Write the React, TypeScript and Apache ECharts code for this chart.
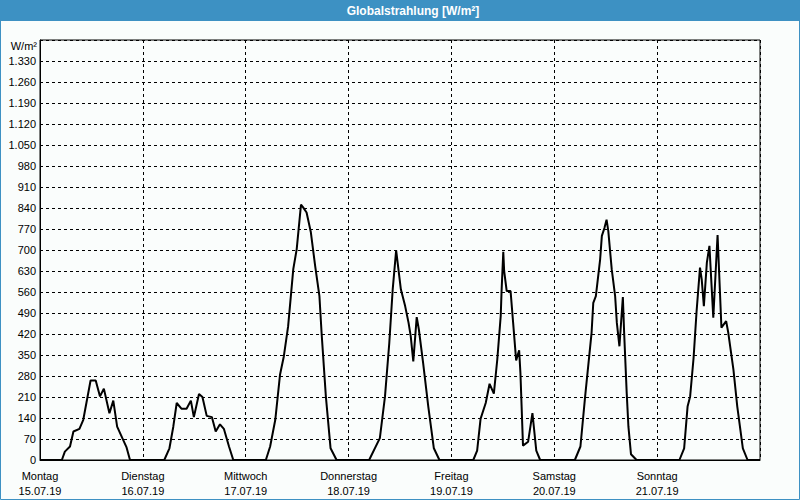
import React, { useEffect, useRef } from "react";
import * as echarts from "echarts";

const DAYS = ["Montag", "Dienstag", "Mittwoch", "Donnerstag", "Freitag", "Samstag", "Sonntag"];
const DATES = ["15.07.19", "16.07.19", "17.07.19", "18.07.19", "19.07.19", "20.07.19", "21.07.19"];

// [hour of day, W/m²]
const monday = [[5.1, 0], [5.8, 28], [7.0, 45], [7.8, 95], [9.2, 104], [10.1, 134], [11.8, 265], [13.0, 265], [14.0, 212], [14.9, 238], [16.2, 156], [17.1, 198], [18.0, 111], [19.4, 67], [20.2, 42], [21.0, 0]];
const tuesday = [[5.0, 0], [6.2, 39], [7.1, 111], [7.9, 190], [9.0, 171], [10.2, 171], [11.2, 198], [11.9, 143], [13.1, 220], [13.9, 210], [14.9, 147], [16.1, 143], [17.0, 95], [18.0, 119], [18.9, 104], [20.1, 45], [21.1, 0]];
const wednesday = [[4.7, 0], [5.7, 45], [6.9, 134], [8.0, 284], [8.9, 346], [9.9, 446], [11.1, 636], [11.9, 703], [12.9, 851], [13.4, 842], [14.2, 825], [15.2, 759], [16.2, 647], [17.2, 546], [17.7, 424], [18.7, 212], [19.8, 39], [21.2, 0]];
const thursday = [[4.8, 0], [7.3, 73], [8.5, 212], [9.5, 390], [10.3, 569], [11.1, 699], [12.2, 569], [13.2, 513], [14.0, 457], [14.5, 413], [15.1, 329], [15.9, 476], [16.4, 435], [17.4, 323], [18.6, 178], [19.9, 39], [21.2, 0]];
const friday = [[5.1, 0], [6.0, 31], [6.8, 137], [8.0, 190], [8.9, 254], [9.9, 221], [10.7, 335], [11.5, 480], [11.7, 563], [12.1, 694], [12.3, 630], [12.9, 563], [13.8, 563], [14.4, 457], [15.1, 332], [15.8, 366], [16.1, 290], [16.7, 48], [17.9, 61], [18.9, 156], [19.8, 31], [20.7, 0]];
const saturday = [[4.8, 0], [6.1, 45], [7.2, 212], [8.7, 424], [9.1, 524], [9.7, 546], [10.7, 669], [11.1, 747], [11.7, 773], [12.2, 801], [12.6, 764], [13.4, 636], [14.2, 546], [14.6, 457], [15.2, 379], [16.0, 543], [16.3, 424], [16.9, 223], [17.3, 111], [17.9, 19], [19.2, 0]];
const sunday = [[5.2, 0], [6.3, 39], [7.1, 178], [7.7, 212], [8.5, 340], [9.2, 495], [10.0, 641], [10.4, 602], [10.9, 513], [11.6, 658], [12.2, 714], [13.1, 474], [14.1, 750], [15.0, 441], [16.1, 463], [16.6, 424], [17.8, 301], [18.7, 178], [20.0, 39], [21.1, 0]];

const WEEK = [monday, tuesday, wednesday, thursday, friday, saturday, sunday];

const Y_MAX = 1400;
const Y_STEP = 70;

function fmtDe(v: number): string {
  if (v >= 1000) {
    const t = Math.floor(v / 1000);
    const r = String(v % 1000).padStart(3, "0");
    return `${t}.${r}`;
  }
  return String(v);
}

const FONT = "'Liberation Sans', Arial, sans-serif";
const BLUE = "#3d91c3";

export default function App() {
  const ref = useRef<HTMLDivElement>(null);
  useEffect(() => {
    if (!ref.current) return;
    const chart = echarts.init(ref.current, null, { renderer: "svg" });
    const points: number[][] = [[0, 0]];
    WEEK.forEach((day, i) => {
      day.forEach(([h, v]) => points.push([i * 24 + h, v]));
    });
    points.push([168, 0]);

    chart.setOption({
      animation: false,
      backgroundColor: "#fafdfc",
      grid: {
        left: 40,
        right: 40,
        top: 40,
        bottom: 40,
        show: true,
        borderColor: "#000",
        borderWidth: 1,
        backgroundColor: "transparent",
      },
      xAxis: {
        type: "value",
        min: 0,
        max: 168,
        interval: 24,
        axisLine: { show: true, lineStyle: { color: "#000", width: 1 } },
        axisTick: { show: false },
        splitLine: { show: true, lineStyle: { color: "#000", type: [3, 3], width: 1 } },
        axisLabel: {
          color: "#000",
          fontFamily: FONT,
          fontSize: 11,
          lineHeight: 15,
          margin: 8,
          showMaxLabel: false,
          formatter: (v: number) => {
            const idx = Math.round(v / 24);
            if (idx >= 7) return "";
            return `${DAYS[idx]}\n${DATES[idx]}`;
          },
        },
      },
      yAxis: {
        type: "value",
        min: 0,
        max: Y_MAX,
        interval: Y_STEP,
        axisLine: { show: true, lineStyle: { color: "#000", width: 1 } },
        axisTick: { show: false },
        splitLine: { show: true, lineStyle: { color: "#000", type: [3, 3], width: 1 } },
        axisLabel: {
          color: "#000",
          fontFamily: FONT,
          fontSize: 11,
          margin: 4,
          formatter: (v: number) => (v >= Y_MAX ? "" : fmtDe(v)),
        },
      },
      graphic: [
        { type: "rect", shape: { x: 0, y: 0, width: 800, height: 21 }, style: { fill: BLUE }, silent: true },
        {
          type: "text",
          x: 413,
          y: 11,
          style: {
            text: "Globalstrahlung [W/m²]",
            fill: "#fff",
            font: `bold 12px ${FONT}`,
            textAlign: "center",
            textVerticalAlign: "middle",
          },
        },
        {
          type: "rect",
          shape: { x: 0.5, y: 0.5, width: 799, height: 499 },
          style: { fill: "none", stroke: BLUE, lineWidth: 1 },
          silent: true,
        },
        {
          type: "text",
          x: 37,
          y: 46,
          style: {
            text: "W/m²",
            fill: "#000",
            font: `11px ${FONT}`,
            textAlign: "right",
            textVerticalAlign: "middle",
          },
        },
      ],
      series: [
        {
          type: "line",
          data: points,
          symbol: "none",
          lineStyle: { color: "#000", width: 2 },
          clip: true,
        },
      ],
    });
    return () => chart.dispose();
  }, []);
  return (
    <div
      ref={ref}
      style={{ position: "fixed", left: 0, top: 0, width: 800, height: 500 }}
    />
  );
}
